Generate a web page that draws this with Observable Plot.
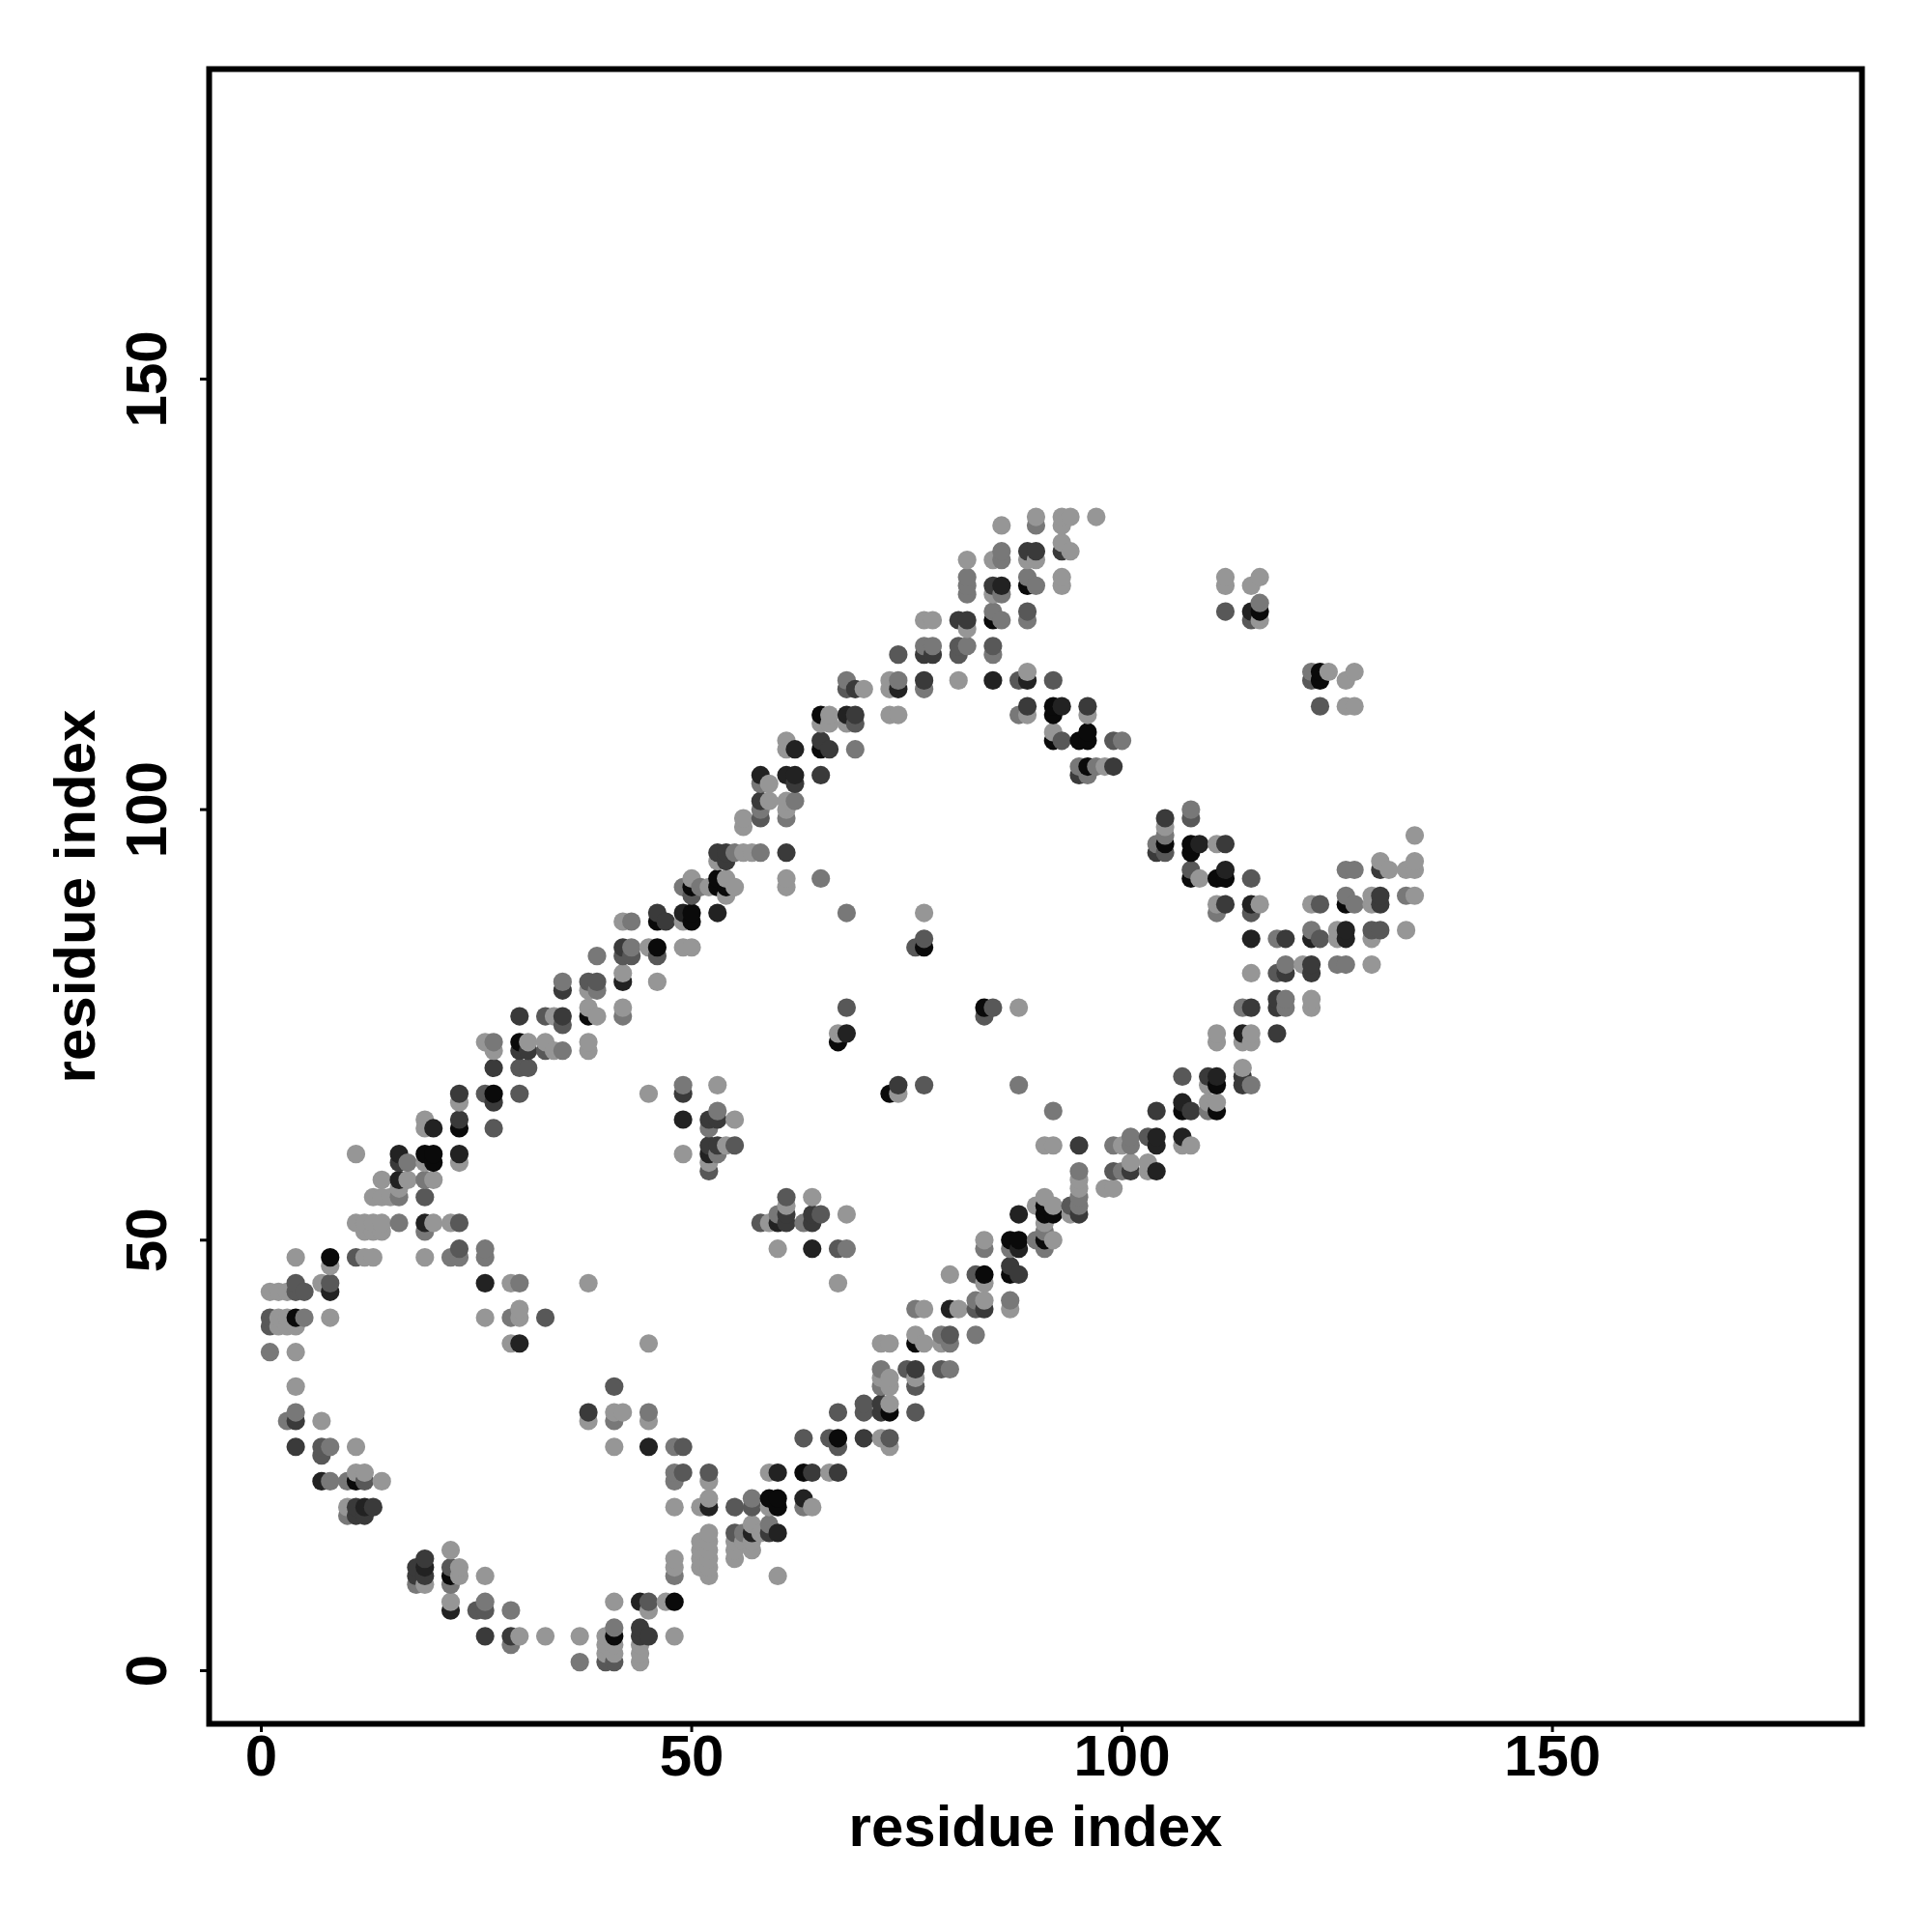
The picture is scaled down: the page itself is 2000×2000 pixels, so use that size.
<!DOCTYPE html>
<html>
<head>
<meta charset="utf-8">
<script src="https://cdn.jsdelivr.net/npm/d3@7"></script>
<script src="https://cdn.jsdelivr.net/npm/@observablehq/plot@0.6"></script>
<style>html,body{margin:0;padding:0;background:#fff}</style>
</head>
<body>
<div id="chart"></div>
<script>
// each row: [residue j, [residues i], [contact strength of each, 1 weak .. 6 strong]]
const rowsLow = [
[1,[37,40,41,44],[2,3,3,1]],
[2,[40,41,44],[1,1,1]],
[3,[29,40,41,44],[2,1,1,1]],
[4,[26,29,30,33,37,40,41,44,45,48],[4,4,1,1,1,1,6,4,4,1]],
[5,[41,44],[2,4]],
[7,[22,25,26,29,45],[5,3,3,2,1]],
[8,[22,26,41,44,45,47,48],[1,2,1,5,3,1,6]],
[10,[18,19,22],[2,1,2]],
[11,[18,19,22,23,26,48,52,60],[4,4,6,1,1,2,1,1]],
[12,[18,19,22,23,48,51,52],[4,5,3,1,1,1,1]],
[13,[19,48,51,52,55],[4,1,1,1,1]],
[14,[22,51,52,55,57],[1,1,1,1,1]],
[15,[51,52,55,56,57],[1,1,1,1,1]],
[16,[52,55,56,57,58,59,60],[1,3,2,5,1,4,5]],
[17,[57,59],[1,2]],
[18,[10,11,12],[2,4,4]],
[19,[10,11,12,13,48,51,52,55,57,59,60,63,64],[1,4,5,4,1,1,5,3,3,1,6,2,1]],
[20,[52,57,59,60,63],[1,2,6,6,5]],
[22,[7,8,10,11,12,14,48,52],[5,2,2,6,3,1,2,1]],
[23,[11,12,48,49,52,59,60,63,64,66,67],[1,1,2,3,3,1,5,6,4,1,4]],
[25,[7],[3]],
[26,[4,7,8,11,41,45,48,49,67,73],[4,3,2,1,1,5,2,3,3,1]],
[27,[63,66,67,70,72,73],[3,3,6,4,1,3]],
[29,[3,4,7,38,41,45],[2,4,1,1,2,1]],
[30,[4,38,41,42,45,67,70,72,73,76],[2,4,1,1,2,3,3,4,6,3]],
[31,[70,72,73],[3,4,1]],
[33,[4,41,72,73,76],[1,3,2,1,3]],
[34,[72,73,76],[1,1,1]],
[35,[72,75,76,79,80],[2,3,4,3,2]],
[37,[1,4],[2,1]],
[38,[29,30,45,72,73,76,77,79,80],[1,5,1,1,1,6,1,1,2]],
[39,[76,79,80,83],[1,2,3,2]],
[40,[1,2,3,4],[3,1,1,1]],
[41,[1,2,3,4,5,8,26,29,30,33],[3,1,1,6,2,1,1,2,1,3]],
[42,[30,76,77,80,81,83,84,87],[1,2,1,5,1,3,4,1]],
[43,[83,84,87],[2,1,2]],
[44,[1,2,3,4,5,8],[1,1,1,3,3,5]],
[45,[4,7,8,26,29,30,38,67,84],[3,1,3,5,1,2,1,1,1]]
];
const rowsMid = [
[46,[80,83,84,87,88],[1,3,6,6,4]],
[47,[8,87],[1,4]],
[48,[4,8,11,12,13,19,22,23,26],[1,6,3,1,1,1,2,2,2]],
[49,[23,26,60,64,67,68,84,87,88,91],[3,2,1,5,3,2,2,2,5,2]],
[50,[84,87,88,90,91,92],[1,6,6,2,6,1]],
[51,[12,13,14,19,91],[1,1,1,2,2]],
[52,[11,12,13,14,16,19,20,22,23,58,59,60,61,63,64,91],[1,1,1,1,2,5,1,1,3,3,1,5,4,2,4,1]],
[53,[60,61,64,65,68,88,91,92,94,95],[2,4,4,3,1,5,6,6,1,4]],
[54,[61,90,91,92,94,95],[1,1,6,1,3,2]],
[55,[13,14,15,16,19,61,64,91,95],[1,1,1,2,3,3,1,1,2]],
[56,[16,95,98,99],[1,1,1,1]],
[57,[14,16,17,19,20,95],[1,5,1,2,1,1]],
[58,[52,95,99,100,101,103,104],[3,2,3,2,4,1,5]],
[59,[16,17,19,20,23,52,101,103],[4,2,1,6,1,1,1,1]],
[60,[11,16,19,20,23,49,52,53],[1,5,6,6,5,1,5,2]],
[61,[52,53,54,55,91,92,95,99,100,101,104,107,108],[4,4,1,3,1,1,4,2,1,2,5,1,1]],
[62,[101,103,104,107],[2,3,5,5]],
[63,[19,20,23,27,52],[1,5,6,3,2]],
[64,[19,23,49,52,53,55],[1,4,5,4,4,1]],
[65,[53,92,104,107,108,110,111],[2,2,4,6,4,2,6]],
[66,[23,27,107,110,111],[1,4,5,1,1]],
[67,[23,26,27,30,45,49,73,74],[4,3,6,3,1,4,6,1]],
[68,[49,53,74,77,88,110,111,114,115],[2,1,4,3,2,1,6,4,2]],
[69,[107,110,111,114],[3,4,5,4]],
[70,[27,30,31,114],[4,3,3,1]],
[72,[27,30,31,33,34,35,38],[1,4,4,3,1,2,1]],
[73,[26,27,30,31,33,38,67,111,114,115],[1,2,6,1,1,1,6,1,1,1]],
[74,[67,68,111,114,115,118],[1,5,1,5,1,4]],
[75,[35],[3]],
[76,[30,33,34,35,38,39,42,84],[4,3,1,4,6,1,2,3]],
[77,[38,42,68,84,85,88,114,115,118,119,122],[1,1,3,6,3,1,2,4,4,2,1]],
[78,[118,119,122],[4,2,1]],
[79,[35,38,39],[4,1,2]],
[80,[35,38,39,42,46],[2,3,3,5,1]],
[81,[42,115,118,119,122],[1,1,3,4,4]],
[82,[119,121,122,125,126,129],[2,1,4,2,2,1]],
[83,[39,42,43,46],[2,3,3,3]],
[84,[42,43,45,46,49,50,76,77],[4,2,1,6,1,1,3,6]],
[85,[77,115,118,119,122,123,125,126,129],[3,5,2,4,5,3,1,5,1]],
[86,[122,125,126,129,130,133],[2,1,5,3,3,1]],
[87,[42,43,46,47,49,50],[1,2,6,4,1,6]],
[88,[46,49,50,53,68,77,111,115],[4,5,6,5,2,1,2,3]],
[89,[111,112,115,116,122,123,126,127,129,130],[1,4,5,1,1,3,6,2,1,4]],
[90,[50,54,126,129,130,133,134],[3,1,2,1,4,2,1]]
];
const rowsHigh = [
[91,[49,50,51,52,53,54,55,61],[2,6,2,1,6,6,1,1]],
[92,[50,53,54,61,65,108,109,111,112,115],[1,6,1,1,2,6,1,6,6,3]],
[93,[108,112,126,127,130,131,133,134],[3,5,2,2,4,1,1,1]],
[94,[53,54,130,134],[1,4,1,1]],
[95,[53,54,55,56,57,58,61,104,105,108],[4,4,2,1,1,2,4,4,3,6]],
[96,[104,105,108,109,111,112],[2,6,6,5,1,4]],
[97,[105,134],[2,1]],
[98,[56,105],[1,1]],
[99,[56,58,61,105,108],[1,3,2,4,3]],
[100,[58,61,108],[2,1,2]],
[101,[58,59,61,62],[4,1,1,2]],
[103,[58,59,62],[2,1,4]],
[104,[58,61,62,65,95,96],[5,5,5,4,4,2]],
[105,[95,96,97,98,99],[2,6,2,1,4]],
[107,[61,62,65,66,69],[1,5,6,4,2]],
[108,[61,65,92,93,95,96,99,100],[1,4,6,3,6,6,3,2]],
[109,[92,96],[1,6]],
[110,[65,66,68,69],[1,1,1,3]],
[111,[65,66,68,69,73,74,88,89,92,96],[6,1,5,4,1,1,2,1,6,1]],
[112,[89,92,93,96,123,126,127],[4,6,5,4,3,1,1]],
[114,[68,69,70,73,74,77],[3,4,1,1,5,2]],
[115,[68,73,74,77,81,85,88,89,92,122,123,126],[2,1,2,4,1,5,3,5,3,3,6,1]],
[116,[89,122,123,124,127],[1,2,6,1,1]],
[118,[74,77,78,81,85],[3,4,4,3,2]],
[119,[77,78,81,82,85],[2,2,3,2,3]],
[121,[82],[1]],
[122,[77,78,81,82,85,86,89,115,116],[1,1,4,4,6,2,2,3,1]],
[123,[85,89,112,115,116],[2,3,3,5,6]],
[124,[116],[2]],
[125,[82,85,86],[2,1,2]],
[126,[82,85,86,89,90,93,112,115],[2,4,5,6,2,1,1,1]],
[127,[82,89,93,112,116],[2,2,1,1,1]],
[129,[82,85,86,89,90],[1,1,2,1,1]],
[130,[86,89,90,93,94],[2,4,4,4,1]],
[131,[93],[1]],
[133,[86,90,93],[1,2,1]],
[134,[90,93,94,97],[1,1,1,1]]
];
const tickValues = [0, 50, 100, 150];
const strengthLevels = [1, 2, 3, 4, 5, 6];
const grayRamp = ["#969696", "#787878", "#585858", "#3a3a3a", "#222222", "#0a0a0a"];
const axisTitle = "residue index";

const contacts = [...rowsLow, ...rowsMid, ...rowsHigh]
  .flatMap(([j, is, ss]) => is.map((i, k) => ({i, j, s: ss[k]})))
  .sort((a, b) => d3.ascending(a.i, b.i) || d3.ascending(a.j, b.j));

const chart = Plot.plot({
  width: 2000,
  height: 2000,
  marginLeft: 216,
  marginRight: 73,
  marginTop: 71,
  marginBottom: 216,
  style: {fontFamily: "'Liberation Sans', Arial, sans-serif", fontWeight: "bold", background: "#fff", color: "#000"},
  x: {domain: [-6.06, 185.96]},
  y: {domain: [-6.17, 186.0]},
  color: {type: "ordinal", domain: strengthLevels, range: grayRamp},
  marks: [
    Plot.dot(contacts, {x: "i", y: "j", fill: "s", r: 9.6, stroke: "none"}),
    Plot.frame({stroke: "#000", strokeWidth: 6}),
    Plot.axisX({
      ticks: tickValues, tickSize: 9, tickPadding: 2, strokeWidth: 3,
      fontSize: 60, label: axisTitle, labelAnchor: "center", labelArrow: "none", labelOffset: 126
    }),
    Plot.axisY({
      ticks: tickValues, tickSize: 9, tickPadding: 36, strokeWidth: 3, tickRotate: -90,
      fontSize: 60, label: axisTitle, labelAnchor: "center", labelArrow: "none", labelOffset: 161
    })
  ]
});
document.getElementById("chart").appendChild(chart);
</script>
</body>
</html>
